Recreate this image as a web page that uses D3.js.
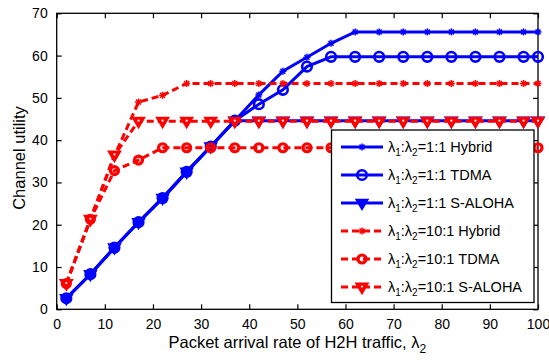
<!DOCTYPE html>
<html><head><meta charset="utf-8">
<script src="https://cdn.jsdelivr.net/npm/d3@7"></script>
<style>
html,body{margin:0;padding:0;background:#fff;}
text{font-family:"Liberation Sans",Arial,sans-serif;fill:#000;}
</style></head>
<body><svg id="chart" width="549" height="360"></svg>
<script>
const xValues = [2,7,12,17,22,27,32,37,42,47,52,57,62,67,72,77,82,87,92,97,100];
const hybrid11 = [2.6,8.3,14.6,20.6,26.3,32.5,38.5,44.6,50.7,56.3,59.6,62.9,65.6,65.6,65.6,65.6,65.6,65.6,65.6,65.6,65.6];
const tdma11   = [2.6,8.3,14.6,20.6,26.3,32.5,38.5,44.6,48.5,51.9,57.4,59.7,59.7,59.7,59.7,59.7,59.7,59.7,59.7,59.7,59.7];
const aloha11  = [2.6,8.3,14.6,20.6,26.3,32.5,38.5,44.6,44.6,44.6,44.6,44.6,44.6,44.6,44.6,44.6,44.6,44.6,44.6,44.6,44.6];
const hybrid101 = [6.1,21.3,36.3,49.0,50.6,53.4,53.4,53.4,53.4,53.4,53.4,53.4,53.4,53.4,53.4,53.4,53.4,53.4,53.4,53.4,53.4];
const tdma101   = [6.1,21.3,32.8,35.3,38.2,38.2,38.2,38.2,38.2,38.2,38.2,38.2,38.2,38.2,38.2,38.2,38.2,38.2,38.2,38.2,38.2];
const aloha101  = [6.1,21.3,36.5,44.5,44.5,44.5,44.5,44.5,44.5,44.5,44.5,44.5,44.5,44.5,44.5,44.5,44.5,44.5,44.5,44.5,44.5];
const xTicks = [0,10,20,30,40,50,60,70,80,90,100];
const yTicks = [0,10,20,30,40,50,60,70];
const seriesNames = ["1:1 Hybrid","1:1 TDMA","1:1 S-ALOHA","10:1 Hybrid","10:1 TDMA","10:1 S-ALOHA"];

const svg = d3.select("#chart");
const L = 56.7, R = 538, T = 13.3, B = 309.3;
const x = d3.scaleLinear().domain([0,100]).range([L,R]);
const y = d3.scaleLinear().domain([0,70]).range([B,T]);

const series = [
  {name:seriesNames[0], vals:hybrid11, color:"#0000ff", dash:null, marker:"star"},
  {name:seriesNames[1], vals:tdma11, color:"#0000ff", dash:null, marker:"circleBig"},
  {name:seriesNames[2], vals:aloha11, color:"#0000ff", dash:null, marker:"triFill"},
  {name:seriesNames[3], vals:hybrid101, color:"#ff0000", dash:"7,4", marker:"star"},
  {name:seriesNames[4], vals:tdma101, color:"#ff0000", dash:"7,4", marker:"circleSmall"},
  {name:seriesNames[5], vals:aloha101, color:"#ff0000", dash:"7,4", marker:"triHole"}
];

svg.append("rect").attr("x",L).attr("y",T).attr("width",R-L).attr("height",B-T)
  .attr("fill","none").attr("stroke","#000").attr("stroke-width",1.3);

const axB = d3.axisBottom(x).tickValues(xTicks).tickSize(-5).tickPadding(10).tickFormat(d3.format("d"));
const axT = d3.axisTop(x).tickValues(xTicks).tickSize(-5).tickFormat("");
const axL = d3.axisLeft(y).tickValues(yTicks).tickSize(-5).tickPadding(9).tickFormat(d3.format("d"));
const axR = d3.axisRight(y).tickValues(yTicks).tickSize(-5).tickFormat("");
function styleAx(g){ g.select(".domain").remove(); g.selectAll("line").attr("stroke","#000").attr("stroke-width",1.2);
  g.selectAll("text").attr("font-size",14).attr("font-family","Liberation Sans, Arial, sans-serif").attr("fill","#000"); }
svg.append("g").attr("transform",`translate(0,${B})`).call(axB).call(styleAx);
svg.append("g").attr("transform",`translate(0,${T})`).call(axT).call(styleAx);
svg.append("g").attr("transform",`translate(${L},0)`).call(axL).call(styleAx);
svg.append("g").attr("transform",`translate(${R},0)`).call(axR).call(styleAx);

function drawMarker(g, type, color, cx, cy){
  if(type==="star"){
    const r=3.5;
    for(let a=0;a<180;a+=45){
      const rad=a*Math.PI/180;
      g.append("line").attr("x1",cx-r*Math.cos(rad)).attr("y1",cy-r*Math.sin(rad))
        .attr("x2",cx+r*Math.cos(rad)).attr("y2",cy+r*Math.sin(rad))
        .attr("stroke",color).attr("stroke-width",1.5);
    }
  } else if(type==="circleBig"){
    g.append("circle").attr("cx",cx).attr("cy",cy).attr("r",4.8).attr("fill","none").attr("stroke",color).attr("stroke-width",2.6);
  } else if(type==="circleSmall"){
    g.append("circle").attr("cx",cx).attr("cy",cy).attr("r",4.0).attr("fill","none").attr("stroke",color).attr("stroke-width",3.2);
  } else if(type==="triFill"){
    const s=5.5;
    g.append("path").attr("d",`M${cx-s},${cy-s*0.6}L${cx+s},${cy-s*0.6}L${cx},${cy+s*1.1}Z`)
      .attr("fill",color).attr("stroke",color).attr("stroke-width",2).attr("stroke-linejoin","miter");
  } else if(type==="triHole"){
    const s=5.5;
    g.append("path").attr("d",`M${cx-s},${cy-s*0.6}L${cx+s},${cy-s*0.6}L${cx},${cy+s*1.1}Z`)
      .attr("fill",color).attr("stroke",color).attr("stroke-width",2.2).attr("stroke-linejoin","miter");
    g.append("circle").attr("cx",cx).attr("cy",cy-0.5).attr("r",1.1).attr("fill","#fff");
  }
}

const line = d3.line().x(d=>x(d[0])).y(d=>y(d[1]));
const plot = svg.append("g");
series.forEach(s=>{
  const pts = xValues.map((xv,i)=>[xv,s.vals[i]]);
  plot.append("path").datum(pts).attr("d",line).attr("fill","none")
    .attr("stroke",s.color).attr("stroke-width",3).attr("stroke-dasharray",s.dash);
  const mg = plot.append("g");
  pts.forEach(p=>drawMarker(mg,s.marker,s.color,x(p[0]),y(p[1])));
});

const lg = svg.append("g");
lg.append("rect").attr("x",331.5).attr("y",130).attr("width",202.5).attr("height",172.5)
  .attr("fill","#fff").attr("stroke","#000").attr("stroke-width",1.3);
series.forEach((s,i)=>{
  const cy = 147 + i*28;
  lg.append("line").attr("x1",341).attr("x2",383).attr("y1",cy).attr("y2",cy)
    .attr("stroke",s.color).attr("stroke-width",3).attr("stroke-dasharray",s.dash);
  drawMarker(lg,s.marker,s.color,362,cy);
  const t = lg.append("text").attr("x",388).attr("y",cy+5).attr("font-size",14.5);
  t.append("tspan").text("λ");
  t.append("tspan").attr("dy",4).attr("font-size",10).text("1");
  t.append("tspan").attr("dy",-4).text(":λ");
  t.append("tspan").attr("dy",4).attr("font-size",10).text("2");
  t.append("tspan").attr("dy",-4).text("="+s.name);
});

const xl = svg.append("text").attr("x",(L+R)/2).attr("y",348).attr("text-anchor","middle").attr("font-size",16.5);
xl.append("tspan").text("Packet arrival rate of H2H traffic, λ");
xl.append("tspan").attr("dy",5).attr("font-size",12).text("2");
svg.append("text").attr("transform",`translate(25,${158}) rotate(-90)`).attr("text-anchor","middle")
  .attr("font-size",16.5).text("Channel utility");
</script></body></html>
